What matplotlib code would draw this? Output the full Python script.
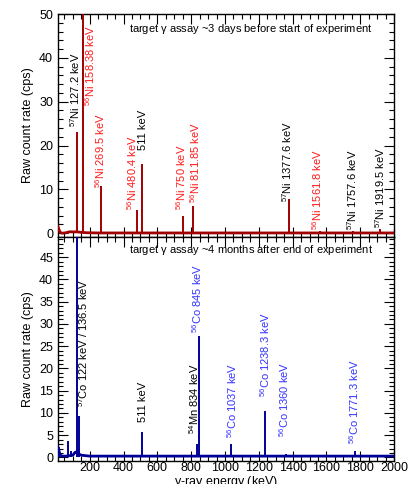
import matplotlib
matplotlib.use("Agg")
import matplotlib.pyplot as plt
from matplotlib.ticker import MultipleLocator

plt.rcParams['font.family'] = ['Liberation Sans', 'DejaVu Sans']
plt.rcParams['mathtext.fontset'] = 'custom'
plt.rcParams['mathtext.rm'] = 'Liberation Sans'
plt.rcParams['mathtext.it'] = 'Liberation Sans'

# ---------------- data: top panel (~3 days before start) ----------------
top_cont_e = [12, 16, 20, 25, 30, 40, 60, 80, 100, 120, 150, 180, 250, 400, 600, 800, 1000, 1400, 1800, 2000]
top_cont_y = [1.5, 1.1, 0.6, 0.2, 0.05, 0.0, 0.1, 0.3, 0.3, 0.3, 0.2, 0.1, 0.05, 0.05, 0.05, 0.05, 0.05, 0.05, 0.05, 0.05]
top_peak_e = [127.2, 158.38, 269.5, 480.4, 511.0, 750.0, 811.85, 1377.6, 1561.8, 1757.6, 1919.5]
top_peak_y = [23.0, 80.0, 10.7, 5.4, 15.7, 3.9, 6.2, 7.8, 0.5, 0.6, 0.9]

top_labels = [r"$^{57}$Ni 127.2 keV", r"$^{56}$Ni 158.38 keV", r"$^{56}$Ni 269.5 keV",
              r"$^{56}$Ni 480.4 keV", "511 keV", r"$^{56}$Ni 750 keV", r"$^{56}$Ni 811.85 keV",
              r"$^{57}$Ni 1377.6 keV", r"$^{56}$Ni 1561.8 keV", r"$^{57}$Ni 1757.6 keV",
              r"$^{57}$Ni 1919.5 keV"]
top_label_x = [113, 200, 262, 450, 517, 740, 822, 1368, 1546, 1754, 1915]
top_label_y = [24.2, 29.0, 10.3, 5.2, 19.0, 5.2, 6.8, 7.1, 0.7, 0.7, 1.1]
top_label_red = [False, True, True, True, False, True, True, False, True, False, False]

# ---------------- data: bottom panel (~4 months after end) ----------------
bot_cont_e = [12, 15, 20, 25, 30, 40, 60, 100, 110, 115, 150, 200, 400, 600, 800, 1000, 1400, 1800, 2000]
bot_cont_y = [2.2, 2.0, 1.2, 0.6, 0.4, 0.3, 0.3, 0.5, 1.0, 1.2, 0.5, 0.3, 0.3, 0.3, 0.3, 0.3, 0.3, 0.3, 0.3]
bot_peak_e = [18, 69, 87, 122.0, 136.5, 511.0, 834.0, 845.0, 977, 1037.0, 1175, 1238.3, 1360.0, 1771.3]
bot_peak_y = [2.4, 3.6, 1.4, 80.0, 9.3, 5.8, 3.0, 27.3, 0.5, 3.0, 0.5, 10.5, 0.8, 1.5]

bot_labels = [r"$^{57}$Co 122 keV / 136.5 keV", "511 keV", r"$^{54}$Mn 834 keV",
              r"$^{56}$Co 845 keV", r"$^{56}$Co 1037 keV", r"$^{56}$Co 1238.3 keV",
              r"$^{56}$Co 1360 keV", r"$^{56}$Co 1771.3 keV"]
bot_label_x = [160, 516, 818, 837, 1040, 1238, 1347, 1765]
bot_label_y = [11.3, 7.9, 5.2, 28.0, 4.4, 13.6, 4.6, 3.0]
bot_label_blue = [False, False, False, True, True, True, True, True]

top_title = r"target $\gamma$ assay ~3 days before start of experiment"
bot_title = r"target $\gamma$ assay ~4 months after end of experiment"

RED_LINE = '#a00000'
RED_TXT = '#ff1a1a'
BLUE_LINE = '#000099'
BLUE_TXT = '#3333ff'

fig = plt.figure(figsize=(4.17, 4.84), dpi=100)
L, R = 0.139, 0.945
ax1 = fig.add_axes([L, 0.511, R - L, 0.971 - 0.511])
ax2 = fig.add_axes([L, 0.0475, R - L, 0.511 - 0.0475])

FS = 8.0
TFS = 9.0

def style(ax, ymajor, yminor, show_x):
    ax.set_xlim(12, 2000)
    ax.xaxis.set_major_locator(MultipleLocator(200))
    ax.xaxis.set_minor_locator(MultipleLocator(50))
    ax.yaxis.set_major_locator(MultipleLocator(ymajor))
    ax.yaxis.set_minor_locator(MultipleLocator(yminor))
    ax.tick_params(which='both', direction='in', top=True, right=True, labelsize=TFS, width=0.8)
    ax.tick_params(which='major', length=7)
    ax.tick_params(which='minor', length=3.5)
    if not show_x:
        ax.tick_params(axis='x', labelbottom=False)
    for s in ax.spines.values():
        s.set_linewidth(1.0)
    ax.set_ylabel("Raw count rate (cps)", fontsize=TFS, labelpad=4)

# top panel
ax1.plot(top_cont_e, top_cont_y, color=RED_LINE, lw=2.0, zorder=3)
ax1.vlines(top_peak_e, 0, top_peak_y, color=RED_LINE, lw=1.4, zorder=3)
ax1.set_ylim(-0.8, 50)
style(ax1, 10, 2, False)
for t, x, y, red in zip(top_labels, top_label_x, top_label_y, top_label_red):
    ax1.text(x, y, t, rotation=90, ha='center', va='bottom', fontsize=FS,
             color=RED_TXT if red else 'black')
ax1.text(0.212, 0.935, top_title, transform=ax1.transAxes, fontsize=FS, ha='left', va='center')

# bottom panel
ax2.plot(bot_cont_e, bot_cont_y, color=BLUE_LINE, lw=2.0, zorder=3)
ax2.vlines(bot_peak_e, 0, bot_peak_y, color=BLUE_LINE, lw=1.4, zorder=3)
ax2.set_ylim(-0.8, 49.6)
style(ax2, 5, 1, True)
for t, x, y, blue in zip(bot_labels, bot_label_x, bot_label_y, bot_label_blue):
    ax2.text(x, y, t, rotation=90, ha='center', va='bottom', fontsize=FS,
             color=BLUE_TXT if blue else 'black')
ax2.text(0.212, 0.94, bot_title, transform=ax2.transAxes, fontsize=FS, ha='left', va='center')
ax2.tick_params(axis='x', pad=1)
fig.text((L + R) / 2, 1 - 474.5 / 484, r"$\gamma$-ray energy (keV)", fontsize=TFS,
         ha='center', va='top')

fig.savefig("out.png", dpi=100)
